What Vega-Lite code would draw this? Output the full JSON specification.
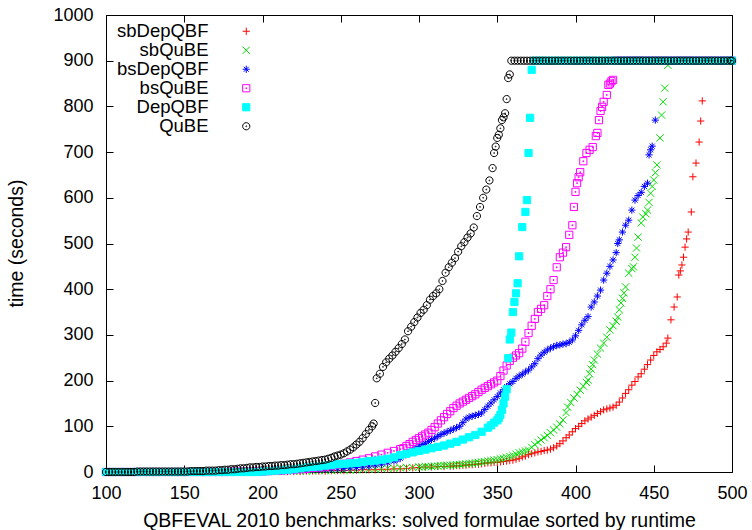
{
"$schema":"https://vega.github.io/schema/vega-lite/v6.json",
"autosize":{"type":"none"},
"padding":{"left":106,"top":15,"right":20,"bottom":58},
"width":626,"height":457,
"config":{"view":{"stroke":"black","strokeWidth":1},"font":"Liberation Sans"},
"data":{"values":[
{"s":"sbDepQBF","x":100,"y":0},{"s":"sbDepQBF","x":104,"y":0},{"s":"sbDepQBF","x":108,"y":0},{"s":"sbDepQBF","x":112,"y":0},{"s":"sbDepQBF","x":116,"y":0},{"s":"sbDepQBF","x":120,"y":0},{"s":"sbDepQBF","x":124,"y":0},{"s":"sbDepQBF","x":128,"y":0},{"s":"sbDepQBF","x":132,"y":0},{"s":"sbDepQBF","x":136,"y":0},{"s":"sbDepQBF","x":140,"y":0},{"s":"sbDepQBF","x":144,"y":0},{"s":"sbDepQBF","x":148,"y":0},{"s":"sbDepQBF","x":152,"y":0},{"s":"sbDepQBF","x":156,"y":0},{"s":"sbDepQBF","x":160,"y":0},{"s":"sbDepQBF","x":164,"y":0},{"s":"sbDepQBF","x":168,"y":0},{"s":"sbDepQBF","x":172,"y":0},{"s":"sbDepQBF","x":176,"y":0},{"s":"sbDepQBF","x":180,"y":0},{"s":"sbDepQBF","x":184,"y":0},{"s":"sbDepQBF","x":188,"y":0},{"s":"sbDepQBF","x":192,"y":0},{"s":"sbDepQBF","x":196,"y":0},{"s":"sbDepQBF","x":200,"y":0},{"s":"sbDepQBF","x":204,"y":1},{"s":"sbDepQBF","x":208,"y":1},{"s":"sbDepQBF","x":212,"y":1},{"s":"sbDepQBF","x":216,"y":1},{"s":"sbDepQBF","x":220,"y":1},{"s":"sbDepQBF","x":224,"y":1},{"s":"sbDepQBF","x":228,"y":2},{"s":"sbDepQBF","x":232,"y":2},{"s":"sbDepQBF","x":236,"y":2},{"s":"sbDepQBF","x":240,"y":2},{"s":"sbDepQBF","x":244,"y":3},{"s":"sbDepQBF","x":248,"y":3},{"s":"sbDepQBF","x":252,"y":3},{"s":"sbDepQBF","x":256,"y":4},{"s":"sbDepQBF","x":260,"y":4},{"s":"sbDepQBF","x":264,"y":5},{"s":"sbDepQBF","x":268,"y":5},{"s":"sbDepQBF","x":272,"y":5},{"s":"sbDepQBF","x":276,"y":6},{"s":"sbDepQBF","x":280,"y":6},{"s":"sbDepQBF","x":284,"y":7},{"s":"sbDepQBF","x":288,"y":7},{"s":"sbDepQBF","x":292,"y":8},{"s":"sbDepQBF","x":296,"y":9},{"s":"sbDepQBF","x":300,"y":10},{"s":"sbDepQBF","x":304,"y":11},{"s":"sbDepQBF","x":308,"y":11},{"s":"sbDepQBF","x":312,"y":12},{"s":"sbDepQBF","x":316,"y":12},{"s":"sbDepQBF","x":320,"y":13},{"s":"sbDepQBF","x":322,"y":13},{"s":"sbDepQBF","x":324,"y":14},{"s":"sbDepQBF","x":326,"y":14},{"s":"sbDepQBF","x":328,"y":15},{"s":"sbDepQBF","x":330,"y":15},{"s":"sbDepQBF","x":332,"y":16},{"s":"sbDepQBF","x":334,"y":16},{"s":"sbDepQBF","x":336,"y":17},{"s":"sbDepQBF","x":338,"y":17},{"s":"sbDepQBF","x":340,"y":18},{"s":"sbDepQBF","x":342,"y":19},{"s":"sbDepQBF","x":344,"y":20},{"s":"sbDepQBF","x":346,"y":20},{"s":"sbDepQBF","x":348,"y":21},{"s":"sbDepQBF","x":350,"y":21},{"s":"sbDepQBF","x":352,"y":22},{"s":"sbDepQBF","x":354,"y":23},{"s":"sbDepQBF","x":356,"y":24},{"s":"sbDepQBF","x":358,"y":25},{"s":"sbDepQBF","x":360,"y":26},{"s":"sbDepQBF","x":362,"y":28},{"s":"sbDepQBF","x":364,"y":30},{"s":"sbDepQBF","x":366,"y":33},{"s":"sbDepQBF","x":368,"y":35},{"s":"sbDepQBF","x":370,"y":38},{"s":"sbDepQBF","x":372,"y":40},{"s":"sbDepQBF","x":374,"y":42},{"s":"sbDepQBF","x":376,"y":44},{"s":"sbDepQBF","x":378,"y":45},{"s":"sbDepQBF","x":380,"y":47},{"s":"sbDepQBF","x":382,"y":48},{"s":"sbDepQBF","x":384,"y":50},{"s":"sbDepQBF","x":386,"y":53},{"s":"sbDepQBF","x":388,"y":57},{"s":"sbDepQBF","x":390,"y":62},{"s":"sbDepQBF","x":392,"y":68},{"s":"sbDepQBF","x":394,"y":75},{"s":"sbDepQBF","x":396,"y":81},{"s":"sbDepQBF","x":398,"y":88},{"s":"sbDepQBF","x":400,"y":95},{"s":"sbDepQBF","x":402,"y":100},{"s":"sbDepQBF","x":404,"y":106},{"s":"sbDepQBF","x":406,"y":112},{"s":"sbDepQBF","x":408,"y":116},{"s":"sbDepQBF","x":410,"y":120},{"s":"sbDepQBF","x":412,"y":124},{"s":"sbDepQBF","x":414,"y":128},{"s":"sbDepQBF","x":416,"y":132},{"s":"sbDepQBF","x":418,"y":136},{"s":"sbDepQBF","x":420,"y":138},{"s":"sbDepQBF","x":422,"y":140},{"s":"sbDepQBF","x":424,"y":142},{"s":"sbDepQBF","x":426,"y":146},{"s":"sbDepQBF","x":428,"y":153},{"s":"sbDepQBF","x":430,"y":162},{"s":"sbDepQBF","x":432,"y":172},{"s":"sbDepQBF","x":434,"y":180},{"s":"sbDepQBF","x":436,"y":190},{"s":"sbDepQBF","x":438,"y":198},{"s":"sbDepQBF","x":440,"y":208},{"s":"sbDepQBF","x":442,"y":215},{"s":"sbDepQBF","x":444,"y":225},{"s":"sbDepQBF","x":446,"y":235},{"s":"sbDepQBF","x":448,"y":245},{"s":"sbDepQBF","x":450,"y":255},{"s":"sbDepQBF","x":452,"y":263},{"s":"sbDepQBF","x":454,"y":268},{"s":"sbDepQBF","x":456,"y":274},{"s":"sbDepQBF","x":458,"y":282},{"s":"sbDepQBF","x":459,"y":293},{"s":"sbDepQBF","x":461,"y":333},{"s":"sbDepQBF","x":463,"y":361},{"s":"sbDepQBF","x":465,"y":383},{"s":"sbDepQBF","x":466,"y":431},{"s":"sbDepQBF","x":467,"y":440},{"s":"sbDepQBF","x":468,"y":453},{"s":"sbDepQBF","x":469,"y":470},{"s":"sbDepQBF","x":470,"y":492},{"s":"sbDepQBF","x":471,"y":510},{"s":"sbDepQBF","x":472,"y":525},{"s":"sbDepQBF","x":474,"y":569},{"s":"sbDepQBF","x":475,"y":646},{"s":"sbDepQBF","x":477,"y":676},{"s":"sbDepQBF","x":479,"y":722},{"s":"sbDepQBF","x":480,"y":768},{"s":"sbDepQBF","x":481,"y":812},
{"s":"sbQuBE","x":100,"y":0},{"s":"sbQuBE","x":104,"y":0},{"s":"sbQuBE","x":108,"y":0},{"s":"sbQuBE","x":112,"y":0},{"s":"sbQuBE","x":116,"y":0},{"s":"sbQuBE","x":120,"y":0},{"s":"sbQuBE","x":124,"y":0},{"s":"sbQuBE","x":128,"y":0},{"s":"sbQuBE","x":132,"y":0},{"s":"sbQuBE","x":136,"y":0},{"s":"sbQuBE","x":140,"y":0},{"s":"sbQuBE","x":144,"y":0},{"s":"sbQuBE","x":148,"y":0},{"s":"sbQuBE","x":152,"y":0},{"s":"sbQuBE","x":156,"y":0},{"s":"sbQuBE","x":160,"y":0},{"s":"sbQuBE","x":164,"y":0},{"s":"sbQuBE","x":168,"y":0},{"s":"sbQuBE","x":172,"y":0},{"s":"sbQuBE","x":176,"y":0},{"s":"sbQuBE","x":180,"y":0},{"s":"sbQuBE","x":184,"y":0},{"s":"sbQuBE","x":188,"y":0},{"s":"sbQuBE","x":192,"y":0},{"s":"sbQuBE","x":196,"y":0},{"s":"sbQuBE","x":200,"y":0},{"s":"sbQuBE","x":204,"y":1},{"s":"sbQuBE","x":208,"y":1},{"s":"sbQuBE","x":212,"y":1},{"s":"sbQuBE","x":216,"y":1},{"s":"sbQuBE","x":220,"y":2},{"s":"sbQuBE","x":224,"y":2},{"s":"sbQuBE","x":228,"y":2},{"s":"sbQuBE","x":232,"y":2},{"s":"sbQuBE","x":236,"y":3},{"s":"sbQuBE","x":240,"y":3},{"s":"sbQuBE","x":244,"y":3},{"s":"sbQuBE","x":248,"y":4},{"s":"sbQuBE","x":252,"y":4},{"s":"sbQuBE","x":256,"y":4},{"s":"sbQuBE","x":260,"y":5},{"s":"sbQuBE","x":264,"y":5},{"s":"sbQuBE","x":268,"y":6},{"s":"sbQuBE","x":272,"y":6},{"s":"sbQuBE","x":276,"y":7},{"s":"sbQuBE","x":280,"y":8},{"s":"sbQuBE","x":284,"y":8},{"s":"sbQuBE","x":288,"y":9},{"s":"sbQuBE","x":292,"y":10},{"s":"sbQuBE","x":296,"y":10},{"s":"sbQuBE","x":300,"y":11},{"s":"sbQuBE","x":302,"y":11},{"s":"sbQuBE","x":304,"y":12},{"s":"sbQuBE","x":306,"y":12},{"s":"sbQuBE","x":308,"y":12},{"s":"sbQuBE","x":310,"y":13},{"s":"sbQuBE","x":312,"y":13},{"s":"sbQuBE","x":314,"y":14},{"s":"sbQuBE","x":316,"y":14},{"s":"sbQuBE","x":318,"y":15},{"s":"sbQuBE","x":320,"y":15},{"s":"sbQuBE","x":322,"y":15},{"s":"sbQuBE","x":324,"y":16},{"s":"sbQuBE","x":326,"y":16},{"s":"sbQuBE","x":328,"y":17},{"s":"sbQuBE","x":330,"y":18},{"s":"sbQuBE","x":332,"y":19},{"s":"sbQuBE","x":334,"y":19},{"s":"sbQuBE","x":336,"y":20},{"s":"sbQuBE","x":338,"y":21},{"s":"sbQuBE","x":340,"y":22},{"s":"sbQuBE","x":342,"y":23},{"s":"sbQuBE","x":344,"y":24},{"s":"sbQuBE","x":346,"y":25},{"s":"sbQuBE","x":348,"y":26},{"s":"sbQuBE","x":350,"y":27},{"s":"sbQuBE","x":352,"y":29},{"s":"sbQuBE","x":354,"y":30},{"s":"sbQuBE","x":356,"y":32},{"s":"sbQuBE","x":358,"y":34},{"s":"sbQuBE","x":360,"y":36},{"s":"sbQuBE","x":362,"y":39},{"s":"sbQuBE","x":364,"y":42},{"s":"sbQuBE","x":366,"y":44},{"s":"sbQuBE","x":368,"y":46},{"s":"sbQuBE","x":370,"y":48},{"s":"sbQuBE","x":372,"y":54},{"s":"sbQuBE","x":374,"y":60},{"s":"sbQuBE","x":376,"y":65},{"s":"sbQuBE","x":378,"y":70},{"s":"sbQuBE","x":380,"y":75},{"s":"sbQuBE","x":382,"y":80},{"s":"sbQuBE","x":384,"y":86},{"s":"sbQuBE","x":386,"y":92},{"s":"sbQuBE","x":388,"y":98},{"s":"sbQuBE","x":390,"y":105},{"s":"sbQuBE","x":392,"y":114},{"s":"sbQuBE","x":394,"y":130},{"s":"sbQuBE","x":395,"y":142},{"s":"sbQuBE","x":397,"y":152},{"s":"sbQuBE","x":399,"y":162},{"s":"sbQuBE","x":401,"y":170},{"s":"sbQuBE","x":403,"y":179},{"s":"sbQuBE","x":405,"y":188},{"s":"sbQuBE","x":407,"y":196},{"s":"sbQuBE","x":408,"y":201},{"s":"sbQuBE","x":409,"y":215},{"s":"sbQuBE","x":410,"y":225},{"s":"sbQuBE","x":411,"y":235},{"s":"sbQuBE","x":412,"y":245},{"s":"sbQuBE","x":414,"y":258},{"s":"sbQuBE","x":416,"y":271},{"s":"sbQuBE","x":418,"y":282},{"s":"sbQuBE","x":420,"y":295},{"s":"sbQuBE","x":422,"y":311},{"s":"sbQuBE","x":424,"y":320},{"s":"sbQuBE","x":426,"y":330},{"s":"sbQuBE","x":427,"y":339},{"s":"sbQuBE","x":428,"y":355},{"s":"sbQuBE","x":429,"y":370},{"s":"sbQuBE","x":430,"y":380},{"s":"sbQuBE","x":431,"y":392},{"s":"sbQuBE","x":432,"y":405},{"s":"sbQuBE","x":434,"y":435},{"s":"sbQuBE","x":436,"y":445},{"s":"sbQuBE","x":437,"y":449},{"s":"sbQuBE","x":438,"y":470},{"s":"sbQuBE","x":439,"y":490},{"s":"sbQuBE","x":440,"y":514},{"s":"sbQuBE","x":442,"y":545},{"s":"sbQuBE","x":443,"y":558},{"s":"sbQuBE","x":445,"y":565},{"s":"sbQuBE","x":446,"y":573},{"s":"sbQuBE","x":447,"y":590},{"s":"sbQuBE","x":448,"y":610},{"s":"sbQuBE","x":449,"y":625},{"s":"sbQuBE","x":450,"y":639},{"s":"sbQuBE","x":451,"y":655},{"s":"sbQuBE","x":452,"y":672},{"s":"sbQuBE","x":454,"y":731},{"s":"sbQuBE","x":455,"y":781},{"s":"sbQuBE","x":456,"y":810},{"s":"sbQuBE","x":457,"y":840},{"s":"sbQuBE","x":459,"y":890},
{"s":"bsDepQBF","x":100,"y":0},{"s":"bsDepQBF","x":104,"y":0},{"s":"bsDepQBF","x":108,"y":0},{"s":"bsDepQBF","x":112,"y":0},{"s":"bsDepQBF","x":116,"y":0},{"s":"bsDepQBF","x":120,"y":0},{"s":"bsDepQBF","x":124,"y":0},{"s":"bsDepQBF","x":128,"y":0},{"s":"bsDepQBF","x":132,"y":0},{"s":"bsDepQBF","x":136,"y":0},{"s":"bsDepQBF","x":140,"y":0},{"s":"bsDepQBF","x":144,"y":0},{"s":"bsDepQBF","x":148,"y":0},{"s":"bsDepQBF","x":152,"y":0},{"s":"bsDepQBF","x":156,"y":0},{"s":"bsDepQBF","x":160,"y":0},{"s":"bsDepQBF","x":164,"y":0},{"s":"bsDepQBF","x":168,"y":0},{"s":"bsDepQBF","x":172,"y":0},{"s":"bsDepQBF","x":176,"y":0},{"s":"bsDepQBF","x":180,"y":0},{"s":"bsDepQBF","x":184,"y":1},{"s":"bsDepQBF","x":188,"y":1},{"s":"bsDepQBF","x":192,"y":1},{"s":"bsDepQBF","x":196,"y":1},{"s":"bsDepQBF","x":200,"y":1},{"s":"bsDepQBF","x":204,"y":1},{"s":"bsDepQBF","x":208,"y":2},{"s":"bsDepQBF","x":212,"y":2},{"s":"bsDepQBF","x":216,"y":3},{"s":"bsDepQBF","x":220,"y":3},{"s":"bsDepQBF","x":224,"y":4},{"s":"bsDepQBF","x":228,"y":4},{"s":"bsDepQBF","x":232,"y":5},{"s":"bsDepQBF","x":236,"y":5},{"s":"bsDepQBF","x":240,"y":6},{"s":"bsDepQBF","x":244,"y":6},{"s":"bsDepQBF","x":248,"y":7},{"s":"bsDepQBF","x":252,"y":8},{"s":"bsDepQBF","x":256,"y":9},{"s":"bsDepQBF","x":260,"y":10},{"s":"bsDepQBF","x":264,"y":11},{"s":"bsDepQBF","x":268,"y":13},{"s":"bsDepQBF","x":272,"y":15},{"s":"bsDepQBF","x":276,"y":17},{"s":"bsDepQBF","x":280,"y":20},{"s":"bsDepQBF","x":284,"y":24},{"s":"bsDepQBF","x":286,"y":27},{"s":"bsDepQBF","x":288,"y":30},{"s":"bsDepQBF","x":290,"y":35},{"s":"bsDepQBF","x":292,"y":40},{"s":"bsDepQBF","x":294,"y":44},{"s":"bsDepQBF","x":296,"y":48},{"s":"bsDepQBF","x":298,"y":52},{"s":"bsDepQBF","x":300,"y":56},{"s":"bsDepQBF","x":302,"y":60},{"s":"bsDepQBF","x":304,"y":63},{"s":"bsDepQBF","x":306,"y":67},{"s":"bsDepQBF","x":308,"y":71},{"s":"bsDepQBF","x":310,"y":74},{"s":"bsDepQBF","x":312,"y":78},{"s":"bsDepQBF","x":314,"y":82},{"s":"bsDepQBF","x":316,"y":85},{"s":"bsDepQBF","x":318,"y":88},{"s":"bsDepQBF","x":320,"y":91},{"s":"bsDepQBF","x":322,"y":94},{"s":"bsDepQBF","x":324,"y":97},{"s":"bsDepQBF","x":326,"y":100},{"s":"bsDepQBF","x":328,"y":108},{"s":"bsDepQBF","x":330,"y":116},{"s":"bsDepQBF","x":332,"y":120},{"s":"bsDepQBF","x":334,"y":122},{"s":"bsDepQBF","x":336,"y":124},{"s":"bsDepQBF","x":338,"y":126},{"s":"bsDepQBF","x":340,"y":129},{"s":"bsDepQBF","x":342,"y":137},{"s":"bsDepQBF","x":344,"y":144},{"s":"bsDepQBF","x":346,"y":151},{"s":"bsDepQBF","x":348,"y":158},{"s":"bsDepQBF","x":350,"y":165},{"s":"bsDepQBF","x":352,"y":173},{"s":"bsDepQBF","x":354,"y":180},{"s":"bsDepQBF","x":356,"y":187},{"s":"bsDepQBF","x":358,"y":193},{"s":"bsDepQBF","x":360,"y":198},{"s":"bsDepQBF","x":362,"y":205},{"s":"bsDepQBF","x":364,"y":210},{"s":"bsDepQBF","x":366,"y":214},{"s":"bsDepQBF","x":368,"y":219},{"s":"bsDepQBF","x":370,"y":223},{"s":"bsDepQBF","x":372,"y":230},{"s":"bsDepQBF","x":374,"y":237},{"s":"bsDepQBF","x":376,"y":248},{"s":"bsDepQBF","x":378,"y":256},{"s":"bsDepQBF","x":380,"y":262},{"s":"bsDepQBF","x":382,"y":267},{"s":"bsDepQBF","x":384,"y":271},{"s":"bsDepQBF","x":386,"y":274},{"s":"bsDepQBF","x":388,"y":277},{"s":"bsDepQBF","x":390,"y":278},{"s":"bsDepQBF","x":392,"y":280},{"s":"bsDepQBF","x":394,"y":281},{"s":"bsDepQBF","x":396,"y":284},{"s":"bsDepQBF","x":398,"y":289},{"s":"bsDepQBF","x":400,"y":298},{"s":"bsDepQBF","x":402,"y":310},{"s":"bsDepQBF","x":404,"y":322},{"s":"bsDepQBF","x":406,"y":332},{"s":"bsDepQBF","x":408,"y":340},{"s":"bsDepQBF","x":410,"y":361},{"s":"bsDepQBF","x":412,"y":372},{"s":"bsDepQBF","x":414,"y":385},{"s":"bsDepQBF","x":416,"y":398},{"s":"bsDepQBF","x":418,"y":420},{"s":"bsDepQBF","x":420,"y":435},{"s":"bsDepQBF","x":422,"y":450},{"s":"bsDepQBF","x":424,"y":464},{"s":"bsDepQBF","x":426,"y":480},{"s":"bsDepQBF","x":427,"y":500},{"s":"bsDepQBF","x":428,"y":508},{"s":"bsDepQBF","x":430,"y":525},{"s":"bsDepQBF","x":432,"y":540},{"s":"bsDepQBF","x":434,"y":551},{"s":"bsDepQBF","x":436,"y":573},{"s":"bsDepQBF","x":438,"y":595},{"s":"bsDepQBF","x":440,"y":605},{"s":"bsDepQBF","x":442,"y":612},{"s":"bsDepQBF","x":444,"y":625},{"s":"bsDepQBF","x":446,"y":632},{"s":"bsDepQBF","x":447,"y":694},{"s":"bsDepQBF","x":448,"y":705},{"s":"bsDepQBF","x":449,"y":713},{"s":"bsDepQBF","x":451,"y":770},
{"s":"bsQuBE","x":100,"y":0},{"s":"bsQuBE","x":104,"y":0},{"s":"bsQuBE","x":108,"y":0},{"s":"bsQuBE","x":112,"y":0},{"s":"bsQuBE","x":116,"y":0},{"s":"bsQuBE","x":120,"y":0},{"s":"bsQuBE","x":124,"y":0},{"s":"bsQuBE","x":128,"y":0},{"s":"bsQuBE","x":132,"y":0},{"s":"bsQuBE","x":136,"y":0},{"s":"bsQuBE","x":140,"y":0},{"s":"bsQuBE","x":144,"y":0},{"s":"bsQuBE","x":148,"y":0},{"s":"bsQuBE","x":152,"y":0},{"s":"bsQuBE","x":156,"y":0},{"s":"bsQuBE","x":160,"y":0},{"s":"bsQuBE","x":164,"y":0},{"s":"bsQuBE","x":168,"y":0},{"s":"bsQuBE","x":172,"y":0},{"s":"bsQuBE","x":176,"y":0},{"s":"bsQuBE","x":180,"y":1},{"s":"bsQuBE","x":184,"y":1},{"s":"bsQuBE","x":188,"y":1},{"s":"bsQuBE","x":192,"y":1},{"s":"bsQuBE","x":196,"y":1},{"s":"bsQuBE","x":200,"y":1},{"s":"bsQuBE","x":204,"y":2},{"s":"bsQuBE","x":208,"y":3},{"s":"bsQuBE","x":212,"y":3},{"s":"bsQuBE","x":216,"y":4},{"s":"bsQuBE","x":220,"y":5},{"s":"bsQuBE","x":224,"y":6},{"s":"bsQuBE","x":228,"y":7},{"s":"bsQuBE","x":232,"y":9},{"s":"bsQuBE","x":236,"y":10},{"s":"bsQuBE","x":240,"y":12},{"s":"bsQuBE","x":244,"y":14},{"s":"bsQuBE","x":248,"y":16},{"s":"bsQuBE","x":252,"y":18},{"s":"bsQuBE","x":256,"y":21},{"s":"bsQuBE","x":260,"y":24},{"s":"bsQuBE","x":264,"y":27},{"s":"bsQuBE","x":268,"y":30},{"s":"bsQuBE","x":272,"y":34},{"s":"bsQuBE","x":276,"y":38},{"s":"bsQuBE","x":280,"y":42},{"s":"bsQuBE","x":284,"y":46},{"s":"bsQuBE","x":288,"y":50},{"s":"bsQuBE","x":290,"y":52},{"s":"bsQuBE","x":292,"y":57},{"s":"bsQuBE","x":294,"y":61},{"s":"bsQuBE","x":296,"y":66},{"s":"bsQuBE","x":298,"y":70},{"s":"bsQuBE","x":300,"y":74},{"s":"bsQuBE","x":302,"y":78},{"s":"bsQuBE","x":304,"y":82},{"s":"bsQuBE","x":306,"y":86},{"s":"bsQuBE","x":308,"y":92},{"s":"bsQuBE","x":310,"y":98},{"s":"bsQuBE","x":312,"y":106},{"s":"bsQuBE","x":314,"y":113},{"s":"bsQuBE","x":316,"y":120},{"s":"bsQuBE","x":318,"y":127},{"s":"bsQuBE","x":320,"y":133},{"s":"bsQuBE","x":322,"y":140},{"s":"bsQuBE","x":324,"y":145},{"s":"bsQuBE","x":326,"y":150},{"s":"bsQuBE","x":328,"y":154},{"s":"bsQuBE","x":330,"y":158},{"s":"bsQuBE","x":332,"y":162},{"s":"bsQuBE","x":334,"y":166},{"s":"bsQuBE","x":336,"y":170},{"s":"bsQuBE","x":338,"y":175},{"s":"bsQuBE","x":340,"y":180},{"s":"bsQuBE","x":342,"y":184},{"s":"bsQuBE","x":344,"y":188},{"s":"bsQuBE","x":346,"y":192},{"s":"bsQuBE","x":348,"y":196},{"s":"bsQuBE","x":350,"y":200},{"s":"bsQuBE","x":352,"y":210},{"s":"bsQuBE","x":354,"y":222},{"s":"bsQuBE","x":356,"y":233},{"s":"bsQuBE","x":358,"y":243},{"s":"bsQuBE","x":360,"y":250},{"s":"bsQuBE","x":362,"y":255},{"s":"bsQuBE","x":364,"y":260},{"s":"bsQuBE","x":366,"y":270},{"s":"bsQuBE","x":368,"y":285},{"s":"bsQuBE","x":370,"y":304},{"s":"bsQuBE","x":372,"y":320},{"s":"bsQuBE","x":374,"y":335},{"s":"bsQuBE","x":376,"y":350},{"s":"bsQuBE","x":378,"y":357},{"s":"bsQuBE","x":380,"y":365},{"s":"bsQuBE","x":382,"y":385},{"s":"bsQuBE","x":384,"y":400},{"s":"bsQuBE","x":386,"y":420},{"s":"bsQuBE","x":388,"y":448},{"s":"bsQuBE","x":390,"y":470},{"s":"bsQuBE","x":392,"y":480},{"s":"bsQuBE","x":394,"y":492},{"s":"bsQuBE","x":396,"y":519},{"s":"bsQuBE","x":398,"y":540},{"s":"bsQuBE","x":399,"y":580},{"s":"bsQuBE","x":400,"y":613},{"s":"bsQuBE","x":401,"y":632},{"s":"bsQuBE","x":402,"y":645},{"s":"bsQuBE","x":403,"y":656},{"s":"bsQuBE","x":405,"y":680},{"s":"bsQuBE","x":407,"y":698},{"s":"bsQuBE","x":409,"y":705},{"s":"bsQuBE","x":411,"y":711},{"s":"bsQuBE","x":413,"y":735},{"s":"bsQuBE","x":414,"y":742},{"s":"bsQuBE","x":415,"y":770},{"s":"bsQuBE","x":416,"y":790},{"s":"bsQuBE","x":417,"y":799},{"s":"bsQuBE","x":418,"y":810},{"s":"bsQuBE","x":420,"y":825},{"s":"bsQuBE","x":421,"y":847},{"s":"bsQuBE","x":422,"y":850},{"s":"bsQuBE","x":423,"y":855},{"s":"bsQuBE","x":424,"y":858},{"s":"bsQuBE","x":426,"y":900},{"s":"bsQuBE","x":428,"y":900},{"s":"bsQuBE","x":430,"y":900},{"s":"bsQuBE","x":432,"y":900},{"s":"bsQuBE","x":434,"y":900},{"s":"bsQuBE","x":436,"y":900},{"s":"bsQuBE","x":438,"y":900},{"s":"bsQuBE","x":440,"y":900},{"s":"bsQuBE","x":442,"y":900},{"s":"bsQuBE","x":444,"y":900},{"s":"bsQuBE","x":446,"y":900},{"s":"bsQuBE","x":448,"y":900},{"s":"bsQuBE","x":450,"y":900},{"s":"bsQuBE","x":452,"y":900},{"s":"bsQuBE","x":454,"y":900},{"s":"bsQuBE","x":456,"y":900},{"s":"bsQuBE","x":458,"y":900},{"s":"bsQuBE","x":460,"y":900},{"s":"bsQuBE","x":462,"y":900},{"s":"bsQuBE","x":464,"y":900},{"s":"bsQuBE","x":466,"y":900},{"s":"bsQuBE","x":468,"y":900},{"s":"bsQuBE","x":470,"y":900},{"s":"bsQuBE","x":472,"y":900},{"s":"bsQuBE","x":474,"y":900},{"s":"bsQuBE","x":476,"y":900},{"s":"bsQuBE","x":478,"y":900},{"s":"bsQuBE","x":480,"y":900},{"s":"bsQuBE","x":482,"y":900},{"s":"bsQuBE","x":484,"y":900},{"s":"bsQuBE","x":486,"y":900},{"s":"bsQuBE","x":488,"y":900},{"s":"bsQuBE","x":490,"y":900},{"s":"bsQuBE","x":492,"y":900},{"s":"bsQuBE","x":494,"y":900},{"s":"bsQuBE","x":496,"y":900},{"s":"bsQuBE","x":498,"y":900},{"s":"bsQuBE","x":500,"y":900},
{"s":"DepQBF","x":100,"y":0},{"s":"DepQBF","x":104,"y":0},{"s":"DepQBF","x":108,"y":0},{"s":"DepQBF","x":112,"y":0},{"s":"DepQBF","x":116,"y":0},{"s":"DepQBF","x":120,"y":0},{"s":"DepQBF","x":124,"y":0},{"s":"DepQBF","x":128,"y":0},{"s":"DepQBF","x":132,"y":0},{"s":"DepQBF","x":136,"y":0},{"s":"DepQBF","x":140,"y":0},{"s":"DepQBF","x":144,"y":0},{"s":"DepQBF","x":148,"y":0},{"s":"DepQBF","x":152,"y":0},{"s":"DepQBF","x":156,"y":0},{"s":"DepQBF","x":160,"y":0},{"s":"DepQBF","x":164,"y":0},{"s":"DepQBF","x":168,"y":0},{"s":"DepQBF","x":172,"y":0},{"s":"DepQBF","x":176,"y":0},{"s":"DepQBF","x":180,"y":0},{"s":"DepQBF","x":184,"y":0},{"s":"DepQBF","x":188,"y":0},{"s":"DepQBF","x":192,"y":0},{"s":"DepQBF","x":196,"y":0},{"s":"DepQBF","x":200,"y":1},{"s":"DepQBF","x":204,"y":2},{"s":"DepQBF","x":208,"y":3},{"s":"DepQBF","x":212,"y":4},{"s":"DepQBF","x":216,"y":5},{"s":"DepQBF","x":220,"y":6},{"s":"DepQBF","x":224,"y":8},{"s":"DepQBF","x":228,"y":10},{"s":"DepQBF","x":232,"y":11},{"s":"DepQBF","x":236,"y":12},{"s":"DepQBF","x":240,"y":14},{"s":"DepQBF","x":244,"y":15},{"s":"DepQBF","x":248,"y":17},{"s":"DepQBF","x":252,"y":18},{"s":"DepQBF","x":256,"y":19},{"s":"DepQBF","x":260,"y":20},{"s":"DepQBF","x":264,"y":22},{"s":"DepQBF","x":268,"y":24},{"s":"DepQBF","x":272,"y":25},{"s":"DepQBF","x":276,"y":27},{"s":"DepQBF","x":280,"y":29},{"s":"DepQBF","x":284,"y":32},{"s":"DepQBF","x":288,"y":37},{"s":"DepQBF","x":292,"y":40},{"s":"DepQBF","x":296,"y":43},{"s":"DepQBF","x":300,"y":46},{"s":"DepQBF","x":304,"y":49},{"s":"DepQBF","x":308,"y":52},{"s":"DepQBF","x":312,"y":55},{"s":"DepQBF","x":316,"y":58},{"s":"DepQBF","x":320,"y":62},{"s":"DepQBF","x":324,"y":66},{"s":"DepQBF","x":328,"y":71},{"s":"DepQBF","x":332,"y":76},{"s":"DepQBF","x":336,"y":81},{"s":"DepQBF","x":340,"y":88},{"s":"DepQBF","x":344,"y":97},{"s":"DepQBF","x":346,"y":102},{"s":"DepQBF","x":348,"y":108},{"s":"DepQBF","x":350,"y":113},{"s":"DepQBF","x":351,"y":118},{"s":"DepQBF","x":352,"y":125},{"s":"DepQBF","x":353,"y":136},{"s":"DepQBF","x":354,"y":150},{"s":"DepQBF","x":355,"y":165},{"s":"DepQBF","x":356,"y":181},{"s":"DepQBF","x":357,"y":249},{"s":"DepQBF","x":358,"y":290},{"s":"DepQBF","x":359,"y":305},{"s":"DepQBF","x":360,"y":350},{"s":"DepQBF","x":361,"y":372},{"s":"DepQBF","x":362,"y":391},{"s":"DepQBF","x":363,"y":413},{"s":"DepQBF","x":364,"y":472},{"s":"DepQBF","x":366,"y":536},{"s":"DepQBF","x":368,"y":569},{"s":"DepQBF","x":369,"y":595},{"s":"DepQBF","x":370,"y":698},{"s":"DepQBF","x":371,"y":775},{"s":"DepQBF","x":372,"y":880},{"s":"DepQBF","x":374,"y":900},{"s":"DepQBF","x":378,"y":900},{"s":"DepQBF","x":382,"y":900},{"s":"DepQBF","x":386,"y":900},{"s":"DepQBF","x":390,"y":900},{"s":"DepQBF","x":394,"y":900},{"s":"DepQBF","x":398,"y":900},{"s":"DepQBF","x":402,"y":900},{"s":"DepQBF","x":406,"y":900},{"s":"DepQBF","x":410,"y":900},{"s":"DepQBF","x":414,"y":900},{"s":"DepQBF","x":418,"y":900},{"s":"DepQBF","x":422,"y":900},{"s":"DepQBF","x":426,"y":900},{"s":"DepQBF","x":430,"y":900},{"s":"DepQBF","x":434,"y":900},{"s":"DepQBF","x":438,"y":900},{"s":"DepQBF","x":442,"y":900},{"s":"DepQBF","x":446,"y":900},{"s":"DepQBF","x":450,"y":900},{"s":"DepQBF","x":454,"y":900},{"s":"DepQBF","x":458,"y":900},{"s":"DepQBF","x":462,"y":900},{"s":"DepQBF","x":466,"y":900},{"s":"DepQBF","x":470,"y":900},{"s":"DepQBF","x":474,"y":900},{"s":"DepQBF","x":478,"y":900},{"s":"DepQBF","x":482,"y":900},{"s":"DepQBF","x":486,"y":900},{"s":"DepQBF","x":490,"y":900},{"s":"DepQBF","x":494,"y":900},{"s":"DepQBF","x":498,"y":900},{"s":"DepQBF","x":500,"y":900},
{"s":"QuBE","x":100,"y":0},{"s":"QuBE","x":102,"y":0},{"s":"QuBE","x":104,"y":0},{"s":"QuBE","x":106,"y":0},{"s":"QuBE","x":108,"y":0},{"s":"QuBE","x":110,"y":0},{"s":"QuBE","x":112,"y":0},{"s":"QuBE","x":114,"y":0},{"s":"QuBE","x":116,"y":0},{"s":"QuBE","x":118,"y":0},{"s":"QuBE","x":120,"y":1},{"s":"QuBE","x":122,"y":1},{"s":"QuBE","x":124,"y":1},{"s":"QuBE","x":126,"y":1},{"s":"QuBE","x":128,"y":1},{"s":"QuBE","x":130,"y":1},{"s":"QuBE","x":132,"y":1},{"s":"QuBE","x":134,"y":1},{"s":"QuBE","x":136,"y":1},{"s":"QuBE","x":138,"y":1},{"s":"QuBE","x":140,"y":1},{"s":"QuBE","x":142,"y":1},{"s":"QuBE","x":144,"y":1},{"s":"QuBE","x":146,"y":1},{"s":"QuBE","x":148,"y":1},{"s":"QuBE","x":150,"y":1},{"s":"QuBE","x":152,"y":1},{"s":"QuBE","x":154,"y":2},{"s":"QuBE","x":156,"y":2},{"s":"QuBE","x":158,"y":2},{"s":"QuBE","x":160,"y":2},{"s":"QuBE","x":162,"y":2},{"s":"QuBE","x":164,"y":3},{"s":"QuBE","x":166,"y":3},{"s":"QuBE","x":168,"y":3},{"s":"QuBE","x":170,"y":3},{"s":"QuBE","x":172,"y":4},{"s":"QuBE","x":174,"y":4},{"s":"QuBE","x":176,"y":5},{"s":"QuBE","x":178,"y":5},{"s":"QuBE","x":180,"y":6},{"s":"QuBE","x":182,"y":6},{"s":"QuBE","x":184,"y":7},{"s":"QuBE","x":186,"y":8},{"s":"QuBE","x":188,"y":8},{"s":"QuBE","x":190,"y":9},{"s":"QuBE","x":192,"y":10},{"s":"QuBE","x":194,"y":10},{"s":"QuBE","x":196,"y":11},{"s":"QuBE","x":198,"y":11},{"s":"QuBE","x":200,"y":12},{"s":"QuBE","x":202,"y":12},{"s":"QuBE","x":204,"y":13},{"s":"QuBE","x":206,"y":13},{"s":"QuBE","x":208,"y":14},{"s":"QuBE","x":210,"y":14},{"s":"QuBE","x":212,"y":15},{"s":"QuBE","x":214,"y":15},{"s":"QuBE","x":216,"y":16},{"s":"QuBE","x":218,"y":17},{"s":"QuBE","x":220,"y":17},{"s":"QuBE","x":222,"y":18},{"s":"QuBE","x":224,"y":19},{"s":"QuBE","x":226,"y":20},{"s":"QuBE","x":228,"y":21},{"s":"QuBE","x":230,"y":22},{"s":"QuBE","x":232,"y":23},{"s":"QuBE","x":234,"y":24},{"s":"QuBE","x":236,"y":25},{"s":"QuBE","x":238,"y":26},{"s":"QuBE","x":240,"y":27},{"s":"QuBE","x":242,"y":29},{"s":"QuBE","x":244,"y":31},{"s":"QuBE","x":246,"y":34},{"s":"QuBE","x":248,"y":36},{"s":"QuBE","x":250,"y":38},{"s":"QuBE","x":252,"y":41},{"s":"QuBE","x":254,"y":45},{"s":"QuBE","x":256,"y":49},{"s":"QuBE","x":258,"y":54},{"s":"QuBE","x":260,"y":60},{"s":"QuBE","x":262,"y":66},{"s":"QuBE","x":264,"y":74},{"s":"QuBE","x":266,"y":83},{"s":"QuBE","x":268,"y":92},{"s":"QuBE","x":270,"y":100},{"s":"QuBE","x":271,"y":106},{"s":"QuBE","x":272,"y":151},{"s":"QuBE","x":273,"y":205},{"s":"QuBE","x":275,"y":215},{"s":"QuBE","x":277,"y":230},{"s":"QuBE","x":279,"y":240},{"s":"QuBE","x":281,"y":248},{"s":"QuBE","x":283,"y":255},{"s":"QuBE","x":285,"y":263},{"s":"QuBE","x":287,"y":271},{"s":"QuBE","x":289,"y":280},{"s":"QuBE","x":291,"y":290},{"s":"QuBE","x":293,"y":308},{"s":"QuBE","x":295,"y":318},{"s":"QuBE","x":297,"y":328},{"s":"QuBE","x":299,"y":338},{"s":"QuBE","x":301,"y":348},{"s":"QuBE","x":303,"y":355},{"s":"QuBE","x":305,"y":365},{"s":"QuBE","x":307,"y":377},{"s":"QuBE","x":309,"y":385},{"s":"QuBE","x":311,"y":391},{"s":"QuBE","x":313,"y":400},{"s":"QuBE","x":315,"y":418},{"s":"QuBE","x":317,"y":436},{"s":"QuBE","x":319,"y":448},{"s":"QuBE","x":321,"y":458},{"s":"QuBE","x":323,"y":468},{"s":"QuBE","x":325,"y":482},{"s":"QuBE","x":327,"y":494},{"s":"QuBE","x":329,"y":503},{"s":"QuBE","x":331,"y":513},{"s":"QuBE","x":333,"y":522},{"s":"QuBE","x":335,"y":535},{"s":"QuBE","x":337,"y":560},{"s":"QuBE","x":339,"y":580},{"s":"QuBE","x":341,"y":600},{"s":"QuBE","x":343,"y":618},{"s":"QuBE","x":345,"y":638},{"s":"QuBE","x":347,"y":665},{"s":"QuBE","x":348,"y":698},{"s":"QuBE","x":349,"y":712},{"s":"QuBE","x":350,"y":731},{"s":"QuBE","x":351,"y":738},{"s":"QuBE","x":352,"y":752},{"s":"QuBE","x":353,"y":770},{"s":"QuBE","x":354,"y":776},{"s":"QuBE","x":355,"y":785},{"s":"QuBE","x":356,"y":816},{"s":"QuBE","x":357,"y":862},{"s":"QuBE","x":358,"y":870},{"s":"QuBE","x":359,"y":900},{"s":"QuBE","x":361,"y":900},{"s":"QuBE","x":363,"y":900},{"s":"QuBE","x":365,"y":900},{"s":"QuBE","x":367,"y":900},{"s":"QuBE","x":369,"y":900},{"s":"QuBE","x":371,"y":900},{"s":"QuBE","x":373,"y":900},{"s":"QuBE","x":375,"y":900},{"s":"QuBE","x":377,"y":900},{"s":"QuBE","x":379,"y":900},{"s":"QuBE","x":381,"y":900},{"s":"QuBE","x":383,"y":900},{"s":"QuBE","x":385,"y":900},{"s":"QuBE","x":387,"y":900},{"s":"QuBE","x":389,"y":900},{"s":"QuBE","x":391,"y":900},{"s":"QuBE","x":393,"y":900},{"s":"QuBE","x":395,"y":900},{"s":"QuBE","x":397,"y":900},{"s":"QuBE","x":399,"y":900},{"s":"QuBE","x":401,"y":900},{"s":"QuBE","x":403,"y":900},{"s":"QuBE","x":405,"y":900},{"s":"QuBE","x":407,"y":900},{"s":"QuBE","x":409,"y":900},{"s":"QuBE","x":411,"y":900},{"s":"QuBE","x":413,"y":900},{"s":"QuBE","x":415,"y":900},{"s":"QuBE","x":417,"y":900},{"s":"QuBE","x":419,"y":900},{"s":"QuBE","x":421,"y":900},{"s":"QuBE","x":423,"y":900},{"s":"QuBE","x":425,"y":900},{"s":"QuBE","x":427,"y":900},{"s":"QuBE","x":429,"y":900},{"s":"QuBE","x":431,"y":900},{"s":"QuBE","x":433,"y":900},{"s":"QuBE","x":435,"y":900},{"s":"QuBE","x":437,"y":900},{"s":"QuBE","x":439,"y":900},{"s":"QuBE","x":441,"y":900},{"s":"QuBE","x":443,"y":900},{"s":"QuBE","x":445,"y":900},{"s":"QuBE","x":447,"y":900},{"s":"QuBE","x":449,"y":900},{"s":"QuBE","x":451,"y":900},{"s":"QuBE","x":453,"y":900},{"s":"QuBE","x":455,"y":900},{"s":"QuBE","x":457,"y":900},{"s":"QuBE","x":459,"y":900},{"s":"QuBE","x":461,"y":900},{"s":"QuBE","x":463,"y":900},{"s":"QuBE","x":465,"y":900},{"s":"QuBE","x":467,"y":900},{"s":"QuBE","x":469,"y":900},{"s":"QuBE","x":471,"y":900},{"s":"QuBE","x":473,"y":900},{"s":"QuBE","x":475,"y":900},{"s":"QuBE","x":477,"y":900},{"s":"QuBE","x":479,"y":900},{"s":"QuBE","x":481,"y":900},{"s":"QuBE","x":483,"y":900},{"s":"QuBE","x":485,"y":900},{"s":"QuBE","x":487,"y":900},{"s":"QuBE","x":489,"y":900},{"s":"QuBE","x":491,"y":900},{"s":"QuBE","x":493,"y":900},{"s":"QuBE","x":495,"y":900},{"s":"QuBE","x":497,"y":900},{"s":"QuBE","x":499,"y":900},{"s":"QuBE","x":500,"y":900}
]},
"layer":[
{"mark":{"type":"point","opacity":1,"strokeWidth":1,"size":52},
 "encoding":{
  "x":{"field":"x","type":"quantitative","scale":{"domain":[100,500],"nice":false,"zero":false},
       "axis":{"orient":"bottom","offset":-7,"values":[100,150,200,250,300,350,400,450,500],"grid":false,"domain":false,"ticks":true,"tickSize":7,"tickColor":"black","labelFlush":false,"labelPadding":12,"labelFontSize":18,"labelColor":"black","labelFont":"Liberation Sans","title":"QBFEVAL 2010 benchmarks: solved formulae sorted by runtime","titleFontSize":19.5,"titleFontWeight":"normal","titleFont":"Liberation Sans","titleColor":"black","titleY":61,"titleBaseline":"alphabetic"}},
  "y":{"field":"y","type":"quantitative","scale":{"domain":[0,1000],"nice":false},
       "axis":{"orient":"left","offset":-7,"values":[0,100,200,300,400,500,600,700,800,900,1000],"format":"d","grid":false,"domain":false,"ticks":true,"tickSize":7,"tickColor":"black","labelFlush":false,"labelPadding":13,"labelFontSize":18,"labelColor":"black","labelFont":"Liberation Sans","title":"time (seconds)","titleFontSize":19.5,"titleFontWeight":"normal","titleFont":"Liberation Sans","titleColor":"black","titleX":-91,"titleY":228,"titleAngle":270,"titleBaseline":"alphabetic","titleAlign":"center"}},
  "stroke":{"field":"s","type":"nominal","scale":{"domain":["sbDepQBF","sbQuBE","bsDepQBF","bsQuBE","DepQBF","QuBE"],"range":["#ff0000","#00e000","#0000ff","#ff00ff","#00ffff","#000000"]},
       "legend":{"orient":"none","legendX":131,"legendY":7,"title":null,"labelAlign":"right","labelOffset":-47,"labelFontSize":18.5,"labelFont":"Liberation Sans","labelColor":"black","symbolSize":52,"symbolStrokeWidth":1,"rowPadding":0}},
  "fill":{"field":"s","type":"nominal","scale":{"domain":["sbDepQBF","sbQuBE","bsDepQBF","bsQuBE","DepQBF","QuBE"],"range":["transparent","transparent","transparent","transparent","#00ffff","transparent"]},
       "legend":{"orient":"none","legendX":131,"legendY":7,"title":null,"labelAlign":"right","labelOffset":-47,"labelFontSize":18.5,"labelFont":"Liberation Sans","labelColor":"black","symbolSize":52,"symbolStrokeWidth":1,"rowPadding":0}},
  "shape":{"field":"s","type":"nominal","scale":{"domain":["sbDepQBF","sbQuBE","bsDepQBF","bsQuBE","DepQBF","QuBE"],"range":["M-1,0L1,0M0,-1L0,1","M-1,-1L1,1M-1,1L1,-1","M-1,0L1,0M0,-1L0,1M-0.7,-0.7L0.7,0.7M-0.7,0.7L0.7,-0.7","M-1,-1L1,-1L1,1L-1,1ZM-0.12,-0.12L0.12,-0.12L0.12,0.12L-0.12,0.12Z","square","M1,0A1,1,0,1,1,-1,0A1,1,0,1,1,1,0ZM0.12,0A0.12,0.12,0,1,1,-0.12,0A0.12,0.12,0,1,1,0.12,0Z"]},
       "legend":{"orient":"none","legendX":131,"legendY":7,"title":null,"labelAlign":"right","labelOffset":-47,"labelFontSize":18.5,"labelFont":"Liberation Sans","labelColor":"black","symbolSize":52,"symbolStrokeWidth":1,"rowPadding":0}}
 }},
{"data":{"values":[{"x":100,"y":0}]},
 "mark":{"type":"point","opacity":0},
 "encoding":{
  "x":{"field":"x","type":"quantitative","axis":{"orient":"top","offset":-7,"values":[100,150,200,250,300,350,400,450,500],"grid":false,"domain":false,"ticks":true,"tickSize":7,"tickColor":"black","labels":false,"title":null}},
  "y":{"field":"y","type":"quantitative","axis":{"orient":"right","offset":-7,"values":[0,100,200,300,400,500,600,700,800,900,1000],"grid":false,"domain":false,"ticks":true,"tickSize":7,"tickColor":"black","labels":false,"title":null}}
 }}
],
"resolve":{"axis":{"x":"independent","y":"independent"}}
}
